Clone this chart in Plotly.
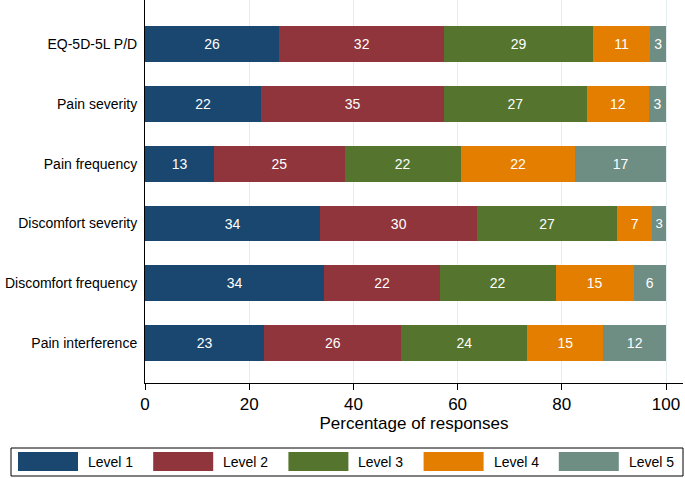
import plotly.graph_objects as go

categories = ["EQ-5D-5L P/D", "Pain severity", "Pain frequency",
              "Discomfort severity", "Discomfort frequency", "Pain interference"]
levels = ["Level 1", "Level 2", "Level 3", "Level 4", "Level 5"]
level1 = [25.8, 22.3, 13.3, 33.6, 34.4, 22.9]
level2 = [31.6, 35.1, 25.0, 30.2, 22.2, 26.3]
level3 = [28.6, 27.4, 22.3, 26.8, 22.2, 24.2]
level4 = [11.0, 11.9, 22.0, 6.8, 15.0, 14.6]
level5 = [3.0, 3.3, 17.4, 2.6, 6.2, 12.0]
colors = ["#1a476f", "#90353b", "#55752f", "#e37e00", "#6e8e84"]
xticks = [0, 20, 40, 60, 80, 100]

FONT = "Liberation Sans, Arial, sans-serif"
series = [level1, level2, level3, level4, level5]

fig = go.Figure()
for name, vals, col in zip(levels, series, colors):
    fig.add_trace(go.Bar(
        y=categories, x=vals, orientation="h", name=name,
        marker=dict(color=col, line=dict(width=0)),
        width=0.6,
        text=[f"{v:.0f}" for v in vals], textposition="inside",
        insidetextanchor="middle", textangle=0,
        textfont=dict(color="white", size=14, family=FONT),
        showlegend=False,
    ))

W, H = 685, 478
ml, mr, mt, mb = 145, 2, 0, 95
pw, ph = W - ml - mr, H - mt - mb
scale = 5.21  # px per percent

def px(xp):
    return (xp - ml) / pw

def py(yp):
    return (H - mb - yp) / ph

shapes = []
annotations = []
# legend box
shapes.append(dict(type="rect", xref="paper", yref="paper",
                   x0=px(11), x1=px(683), y0=py(476), y1=py(448),
                   line=dict(color="black", width=1), fillcolor="white"))
for i, (name, col) in enumerate(zip(levels, colors)):
    left = 18 + i * 135.2
    shapes.append(dict(type="rect", xref="paper", yref="paper",
                       x0=px(left), x1=px(left + 60), y0=py(471), y1=py(452),
                       line=dict(width=0), fillcolor=col))
    annotations.append(dict(xref="paper", yref="paper", x=px(left + 68), y=py(461.5),
                            text=name, showarrow=False, xanchor="left", yanchor="middle",
                            font=dict(size=14, family=FONT, color="black")))

fig.update_layout(
    barmode="stack",
    width=W, height=H,
    margin=dict(l=ml, r=mr, t=mt, b=mb, autoexpand=False),
    plot_bgcolor="white", paper_bgcolor="white",
    font=dict(family=FONT, color="black"),
    xaxis=dict(range=[0, pw / scale], tickvals=xticks, ticks="outside", ticklen=6,
               tickcolor="black", showline=True, linecolor="black", linewidth=1,
               showgrid=True, gridcolor="#e4eef0", gridwidth=1, zeroline=False,
               automargin=False,
               tickfont=dict(size=17, family=FONT),
               title=dict(text="Percentage of responses", font=dict(size=17, family=FONT),
                          standoff=3)),
    yaxis=dict(type="category", categoryorder="array", categoryarray=categories,
               range=[5.665, -0.735], showline=True, linecolor="black", linewidth=1,
               showgrid=False, ticks="", ticklabelstandoff=4, automargin=False,
               tickfont=dict(size=14, family=FONT)),
    shapes=shapes, annotations=annotations,
    showlegend=False,
)
fig.write_html("out.html", config={"displayModeBar": False})

with open("out.html", encoding="utf-8") as f:
    html = f.read()
html = html.replace("<body>", '<body style="margin:0;padding:0;overflow:hidden">', 1)
with open("out.html", "w", encoding="utf-8") as f:
    f.write(html)
